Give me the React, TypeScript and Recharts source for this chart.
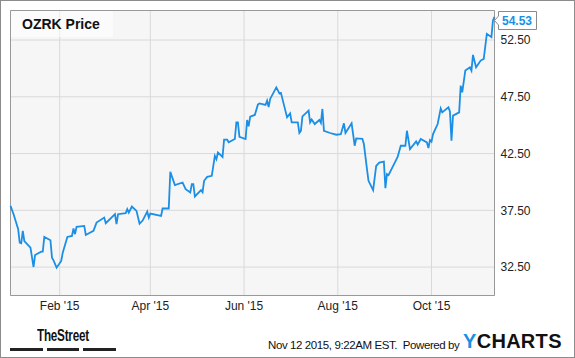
import React from 'react';
import { LineChart, Line, XAxis, YAxis, CartesianGrid, ReferenceArea } from 'recharts';

const dates: string[] = [
  '2014-12-31', '2015-01-02', '2015-01-05', '2015-01-06', '2015-01-07', '2015-01-08', '2015-01-09', '2015-01-13',
  '2015-01-15', '2015-01-16', '2015-01-20', '2015-01-21', '2015-01-22', '2015-01-26', '2015-01-27', '2015-01-28',
  '2015-01-30', '2015-02-02', '2015-02-03', '2015-02-06', '2015-02-09', '2015-02-10', '2015-02-11', '2015-02-12',
  '2015-02-17', '2015-02-18', '2015-02-23', '2015-02-25', '2015-03-02', '2015-03-03', '2015-03-09', '2015-03-10',
  '2015-03-11', '2015-03-16', '2015-03-17', '2015-03-18', '2015-03-20', '2015-03-23', '2015-03-25', '2015-03-27',
  '2015-03-30', '2015-03-31', '2015-04-01', '2015-04-08', '2015-04-09', '2015-04-13', '2015-04-14', '2015-04-17',
  '2015-04-22', '2015-04-24', '2015-04-27', '2015-04-28', '2015-04-29', '2015-04-30', '2015-05-04', '2015-05-05',
  '2015-05-06', '2015-05-08', '2015-05-11', '2015-05-13', '2015-05-14', '2015-05-15', '2015-05-18', '2015-05-19',
  '2015-05-21', '2015-05-22', '2015-05-26', '2015-05-27', '2015-05-28', '2015-05-29', '2015-06-02', '2015-06-03',
  '2015-06-04', '2015-06-05', '2015-06-08', '2015-06-10', '2015-06-11', '2015-06-15', '2015-06-16', '2015-06-17',
  '2015-06-18', '2015-06-22', '2015-06-24', '2015-06-25', '2015-06-29', '2015-07-01', '2015-07-02', '2015-07-06',
  '2015-07-07', '2015-07-08', '2015-07-09', '2015-07-13', '2015-07-14', '2015-07-15', '2015-07-17', '2015-07-20',
  '2015-07-21', '2015-07-22', '2015-07-23', '2015-07-27', '2015-07-31', '2015-08-03', '2015-08-05', '2015-08-06',
  '2015-08-10', '2015-08-12', '2015-08-13', '2015-08-17', '2015-08-18', '2015-08-20', '2015-08-21', '2015-08-24',
  '2015-08-26', '2015-08-28', '2015-08-31', '2015-09-01', '2015-09-02', '2015-09-03', '2015-09-08', '2015-09-09',
  '2015-09-11', '2015-09-14', '2015-09-15', '2015-09-17', '2015-09-21', '2015-09-22', '2015-09-24', '2015-09-28',
  '2015-09-29', '2015-09-30', '2015-10-01', '2015-10-02', '2015-10-05', '2015-10-07', '2015-10-08', '2015-10-12',
  '2015-10-13', '2015-10-14', '2015-10-15', '2015-10-19', '2015-10-20', '2015-10-21', '2015-10-23', '2015-10-26',
  '2015-10-27', '2015-10-28', '2015-10-30', '2015-11-02', '2015-11-04', '2015-11-06', '2015-11-09', '2015-11-10',
  '2015-11-11',
];

const prices: number[] = [
  37.89, 37.16, 35.83, 34.65, 34.6, 35.69, 34.8, 34.21,
  32.51, 33.57, 33.86, 33.86, 35.16, 34.87, 33.33, 33.1,
  32.45, 33.04, 33.77, 35.16, 35.25, 35.9, 35.4, 36.04,
  36.13, 35.33, 35.69, 36.42, 36.86, 36.37, 37.16, 36.28,
  37.16, 37.25, 37.6, 37.3, 37.83, 37.45, 36.33, 36.6,
  37.39, 36.86, 37.21, 37.01, 37.66, 37.66, 40.89, 39.72,
  39.95, 39.37, 39.07, 39.81, 39.81, 38.72, 39.28, 39.1,
  40.1, 40.45, 40.54, 42.3, 42.0, 42.6, 42.2, 43.72,
  43.72, 43.5, 43.78, 45.25, 45.25, 43.98, 43.78, 45.46,
  44.9, 45.75, 45.9, 46.81, 46.92, 46.78, 47.16, 46.6,
  47.31, 48.33, 47.8, 47.85, 45.69, 46.04, 45.25, 45.25,
  44.31, 44.5, 45.78, 46.28, 45.25, 45.5, 45.1, 45.46,
  45.2, 46.43, 44.51, 44.31, 44.16, 44.2, 45.16, 44.31,
  45.16, 43.19, 43.83, 43.8, 43.34, 41.13, 40.1, 39.28,
  41.42, 41.71, 41.8, 39.46, 40.69, 40.6, 41.95, 42.22,
  43.19, 43.19, 44.51, 42.9, 43.57, 43.3, 43.78, 43.48,
  42.99, 43.69, 43.55, 44.22, 45.1, 46.48, 46.13, 46.57,
  46.2, 43.63, 45.84, 46.13, 48.48, 47.9, 49.81, 50.1,
  49.81, 51.19, 50.1, 50.69, 50.84, 53.05, 52.75, 54.22,
  54.53,
];

const xTickDates: string[] = ['2015-02-01', '2015-04-01', '2015-06-01', '2015-08-01', '2015-10-01'];
const yTicks: number[] = [32.5, 37.5, 42.5, 47.5, 52.5];
const yDomain: number[] = [30, 55.1];
const monthNames: string[] = ['Jan', 'Feb', 'Mar', 'Apr', 'May', 'Jun', 'Jul', 'Aug', 'Sep', 'Oct', 'Nov', 'Dec'];

const toTs = (s: string) => Date.parse(s + 'T00:00:00Z');
const data = dates.map((d, i) => ({ t: toTs(d), price: prices[i] }));
const xMin = data[0].t;
const xMax = data[data.length - 1].t;
const xTicks = xTickDates.map(toTs);

const fmtX = (v: number) => {
  const d = new Date(v);
  return `${monthNames[d.getUTCMonth()]} '${String(d.getUTCFullYear()).slice(2)}`;
};

const BLUE = '#1b8fe6';
const FONT = '"Liberation Sans", Arial, sans-serif';

const LastLabel = (props: any) => {
  const { x, y, index, value } = props;
  if (index !== data.length - 1) return null;
  const cy = Math.max(y, 20.5);
  const left = x + 4;
  return (
    <g>
      <path
        d={`M ${left} ${cy - 9} H ${left + 38} V ${cy + 9} H ${left} V ${cy + 4.5} L ${x} ${cy} L ${left} ${cy - 4.5} Z`}
        fill="#ffffff"
        stroke="#8a8a8a"
        strokeWidth={1}
      />
      <text x={left + 3.5} y={cy + 4.5} fill={BLUE} fontSize={12} fontWeight="bold" fontFamily={FONT}>
        {Number(value).toFixed(2)}
      </text>
    </g>
  );
};

export default function App() {
  return (
    <div style={{ position: 'absolute', left: 0, top: 0, width: 575, height: 358, background: '#ffffff', fontFamily: FONT }}>
      <LineChart
        width={575}
        height={358}
        data={data}
        margin={{ top: 10.5, right: 0.5, bottom: 42.5, left: 10.5 }}
      >
        <CartesianGrid fill="#f6f6f6" stroke="#d9d9d9" strokeWidth={1} />
        <XAxis
          dataKey="t"
          type="number"
          domain={[xMin, xMax]}
          ticks={xTicks}
          tickFormatter={fmtX}
          axisLine={false}
          tickLine={false}
          tickSize={0}
          tickMargin={6}
          height={20}
          tick={{ fontSize: 12, fill: '#222', fontFamily: FONT }}
          interval={0}
        />
        <YAxis
          orientation="right"
          type="number"
          domain={yDomain}
          ticks={yTicks}
          tickFormatter={(v: number) => v.toFixed(2)}
          axisLine={false}
          tickLine={false}
          tickSize={0}
          tickMargin={6}
          width={80}
          tick={{ fontSize: 12, fill: '#222', fontFamily: FONT, textAnchor: 'start' }}
          interval={0}
        />
        <ReferenceArea
          x1={xMin}
          x2={xMax}
          y1={yDomain[0]}
          y2={yDomain[1]}
          fill="none"
          fillOpacity={0}
          stroke="#999999"
          strokeWidth={1}
          ifOverflow="extendDomain"
        />
        <Line
          type="linear"
          dataKey="price"
          stroke={BLUE}
          strokeWidth={1.8}
          dot={false}
          activeDot={false}
          isAnimationActive={false}
          label={<LastLabel />}
        />
      </LineChart>

      {/* title box */}
      <div style={{ position: 'absolute', left: 11, top: 11, width: 102, height: 26, background: 'rgba(255,255,255,0.5)' }} />
      <div style={{ position: 'absolute', left: 22, top: 16, fontSize: 14, lineHeight: '16px', fontWeight: 'bold', color: '#111', whiteSpace: 'nowrap' }}>
        OZRK Price
      </div>

      {/* TheStreet logo */}
      <div
        style={{
          position: 'absolute', left: 37, top: 327, fontSize: 16, lineHeight: '18px', fontWeight: 'bold', color: '#111',
          whiteSpace: 'nowrap', letterSpacing: -0.3, transform: 'scaleX(0.73)', transformOrigin: 'left top',
        }}
      >
        TheStreet
      </div>
      <div style={{ position: 'absolute', left: 10, top: 348, width: 33, height: 3, background: '#222' }} />
      <div style={{ position: 'absolute', left: 47, top: 348, width: 32, height: 3, background: '#222' }} />
      <div style={{ position: 'absolute', left: 83, top: 348, width: 33, height: 3, background: '#222' }} />

      {/* footer */}
      <div style={{ position: 'absolute', left: 268, top: 337.5, fontSize: 11.5, lineHeight: '14px', color: '#111', whiteSpace: 'nowrap', letterSpacing: -0.4 }}>
        Nov 12 2015, 9:22AM EST.&nbsp; Powered by
      </div>
      <div style={{ position: 'absolute', left: 463, top: 330, fontSize: 20, lineHeight: '22px', fontWeight: 'bold', color: '#111', whiteSpace: 'nowrap', letterSpacing: 0.3 }}>
        <span style={{ color: BLUE }}>Y</span>CHARTS
      </div>

      {/* outer frame */}
      <div style={{ position: 'absolute', left: 0, top: 0, width: 575, height: 358, boxSizing: 'border-box', border: '1px solid #8c8c8c', pointerEvents: 'none' }} />
    </div>
  );
}
